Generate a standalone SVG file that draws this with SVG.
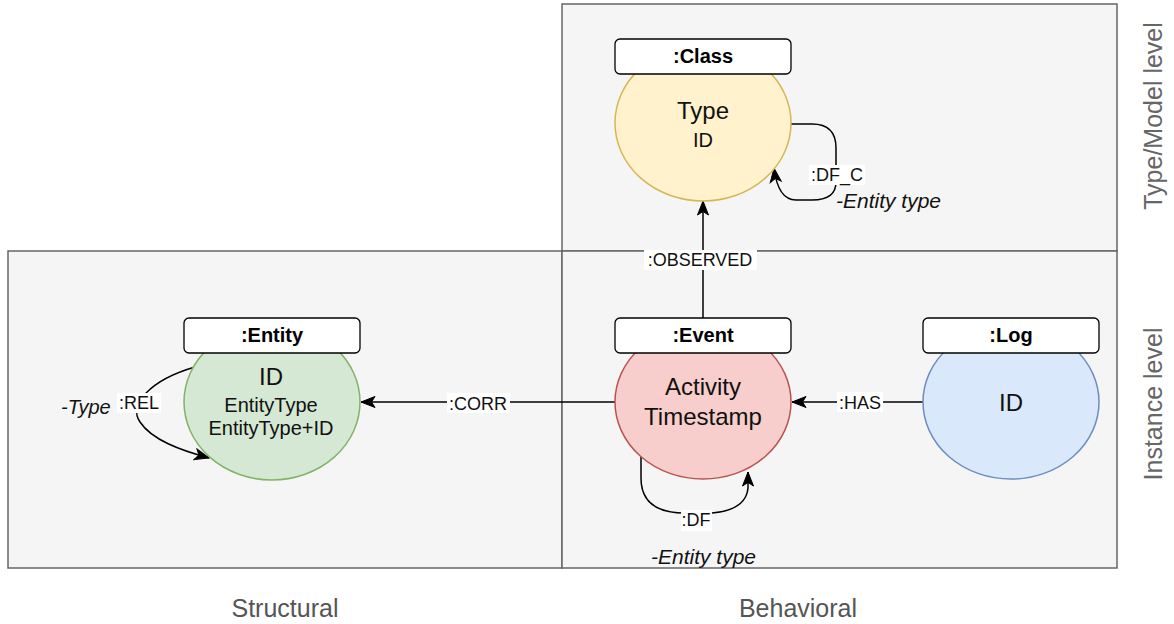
<svg xmlns="http://www.w3.org/2000/svg" width="1174" height="624" viewBox="0 0 1174 624">
<defs>
<marker id="arr" viewBox="0 0 16 14" refX="15" refY="7" markerWidth="16" markerHeight="14" markerUnits="userSpaceOnUse" orient="auto">
<path d="M1,1.5 L15,7 L1,12.5 L4.5,7 Z" fill="#000" stroke="#000" stroke-width="1"/>
</marker>
</defs>
<style>
text{font-family:"Liberation Sans",Arial,sans-serif;}
.panel{fill:#f5f5f5;stroke:#666;stroke-width:1.5;}
.lbl{fill:#fff;stroke:#000;stroke-width:1.3;}
.ttl{font-size:20px;font-weight:bold;text-anchor:middle;fill:#000;}
.big{font-size:24px;text-anchor:middle;fill:#111;}
.mid{font-size:20px;text-anchor:middle;fill:#111;}
.edge{fill:none;stroke:#000;stroke-width:1.5;marker-end:url(#arr);}
.el{font-size:18px;text-anchor:middle;fill:#111;}
.it{font-size:21px;font-style:italic;fill:#111;}
.side{font-size:25px;fill:#666;text-anchor:middle;}
.bot{font-size:25px;fill:#555;text-anchor:middle;}
</style>
<g id="panels">
<rect class="panel" x="562" y="4" width="555" height="247"/>
<rect class="panel" x="8" y="251" width="554" height="317"/>
<rect class="panel" x="562" y="251" width="555" height="317"/>
</g>
<g id="connectors">
<line class="edge" x1="703" y1="318" x2="703" y2="201"/>
<rect x="644" y="250" width="113" height="20" fill="#fff"/>
<text class="el" x="700" y="266">:OBSERVED</text>
<line class="edge" x1="923" y1="402" x2="792" y2="402"/>
<rect x="837" y="392" width="46" height="20" fill="#fff"/>
<text class="el" x="860" y="409">:HAS</text>
<line class="edge" x1="615" y1="402" x2="361" y2="402"/>
<rect x="447" y="393" width="63" height="20" fill="#fff"/>
<text class="el" x="478" y="410">:CORR</text>
<path class="edge" d="M791 124 L812 124 Q836 124 836 148 L836 182 Q836 200 812 200 L796 200 Q778 200 774 168"/>
<rect x="809" y="165" width="56" height="20" fill="#fff"/>
<text class="el" x="837" y="181">:DF_C</text>
<path class="edge" d="M641 457 L641 478 Q641 513 685 513 L712 513 Q746 510 748 488 L748 472"/>
<rect x="681" y="510" width="31" height="21" fill="#fff"/>
<text class="el" x="696" y="526">:DF</text>
<path class="edge" d="M195 367 C150 380 128 405 140 422 C152 440 180 450 209 458"/>
<rect x="117" y="393" width="44" height="20" fill="#fff"/>
<text class="el" x="139" y="409">:REL</text>
</g>
<g id="annotations">
<text class="it" x="836" y="208">-Entity type</text>
<text class="it" x="651" y="564">-Entity type</text>
<text class="it" x="61" y="414" style="font-size:20px">-Type</text>
</g>
<g id="class">
<ellipse cx="703" cy="123" rx="88" ry="78" fill="#fff2cc" stroke="#d6b656" stroke-width="1.5"/>
<rect class="lbl" x="615" y="39" width="176" height="35" rx="5"/>
<text class="ttl" x="703" y="63">:Class</text>
<text class="big" x="703" y="119">Type</text>
<text class="mid" x="703" y="147">ID</text>
</g>
<g id="event">
<ellipse cx="703" cy="402" rx="88" ry="77" fill="#f8cecc" stroke="#b85450" stroke-width="1.5"/>
<rect class="lbl" x="615" y="318" width="176" height="35" rx="5"/>
<text class="ttl" x="703" y="342">:Event</text>
<text class="big" x="703" y="395">Activity</text>
<text class="big" x="703" y="425">Timestamp</text>
</g>
<g id="log">
<ellipse cx="1011" cy="402" rx="88" ry="77" fill="#dae8fc" stroke="#6c8ebf" stroke-width="1.5"/>
<rect class="lbl" x="923" y="318" width="176" height="35" rx="5"/>
<text class="ttl" x="1011" y="342">:Log</text>
<text class="big" x="1011" y="411">ID</text>
</g>
<g id="entity">
<ellipse cx="272" cy="402" rx="88" ry="78" fill="#d5e8d4" stroke="#82b366" stroke-width="1.5"/>
<rect class="lbl" x="184" y="318" width="176" height="35" rx="5"/>
<text class="ttl" x="272" y="342">:Entity</text>
<text class="big" x="271" y="385">ID</text>
<text class="mid" x="271" y="412">EntityType</text>
<text class="mid" x="271" y="435">EntityType+ID</text>
</g>
<g id="labels">
<text class="side" transform="translate(1162,116) rotate(-90)">Type/Model level</text>
<text class="side" transform="translate(1162,404) rotate(-90)">Instance level</text>
<text class="bot" x="285" y="617">Structural</text>
<text class="bot" x="798" y="617">Behavioral</text>
</g>
</svg>
